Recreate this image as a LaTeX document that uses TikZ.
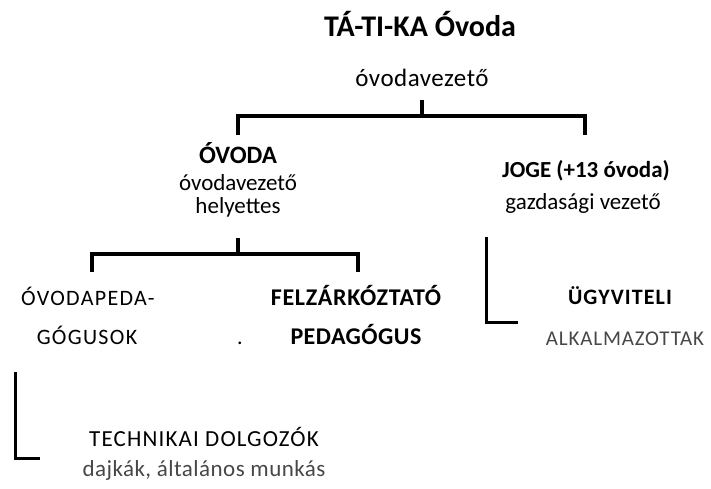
\documentclass[tikz,border=0pt]{standalone}
\usepackage{fontspec}
\setmainfont{Carlito}
\begin{document}
\begin{tikzpicture}[x=1pt,y=-1pt,
  lbl/.style={inner sep=0pt,anchor=base},
  bigline/.style={line width=4pt,line cap=butt},
  lline/.style={line width=3pt},
  soft/.style={text=black!72}]
\useasboundingbox (0,0) rectangle (711,488);
% texts
\node[lbl,font=\fontsize{30}{32}\selectfont\bfseries] (title) at (420,36) {TÁ-TI-KA Óvoda};
\node[lbl,font=\fontsize{25}{27}\selectfont\addfontfeature{LetterSpace=2}] (tvez) at (422,86) {óvodavezető};
\node[lbl,font=\fontsize{25}{27}\selectfont\bfseries] (ovoda) at (238,163) {ÓVODA};
\node[lbl,font=\fontsize{23}{25}\selectfont] (ovez) at (238,190) {óvodavezető};
\node[lbl,font=\fontsize{23}{25}\selectfont] (hely) at (238,213) {helyettes};
\node[lbl,font=\fontsize{23}{25}\selectfont\bfseries] (joge) at (586,177) {JOGE (+13 óvoda)};
\node[lbl,font=\fontsize{23}{25}\selectfont] (gazd) at (583,209) {gazdasági vezető};
\node[lbl,font=\fontsize{22}{24}\selectfont\addfontfeature{LetterSpace=6}] (ovped) at (88,305) {ÓVODAPEDA-};
\node[lbl,font=\fontsize{22}{24}\selectfont\addfontfeature{LetterSpace=6}] (gogus) at (87,344) {GÓGUSOK};
\node[lbl,font=\fontsize{24}{26}\selectfont\bfseries\addfontfeature{LetterSpace=3}] (felz) at (356,305) {FELZÁRKÓZTATÓ};
\node[lbl,font=\fontsize{24}{26}\selectfont\bfseries\addfontfeature{LetterSpace=2}] (peda) at (356,344) {PEDAGÓGUS};
\node[lbl,font=\fontsize{22}{24}\selectfont] (dot) at (240,344) {.};
\node[lbl,font=\fontsize{22}{24}\selectfont\bfseries\addfontfeature{LetterSpace=5}] (ugyv) at (620,304) {ÜGYVITELI};
\node[lbl,soft,font=\fontsize{21}{23}\selectfont\addfontfeature{LetterSpace=4}] (alk) at (625,345) {ALKALMAZOTTAK};
\node[lbl,font=\fontsize{23}{25}\selectfont\addfontfeature{LetterSpace=5}] (tech) at (204,446) {TECHNIKAI DOLGOZÓK};
\node[lbl,soft,font=\fontsize{23}{25}\selectfont\addfontfeature{LetterSpace=2}] (dajk) at (204,476) {dajkák, általános munkás};
% connectors
\coordinate (t1) at (422,100);
\coordinate (t2) at (422,116);
\coordinate (tl) at (238,135);
\coordinate (tr) at (585,135);
\draw[bigline] (t1) -- (t2);
\draw[bigline] (tl) |- (t2) -| (tr);
\coordinate (s1) at (238,238);
\coordinate (s2) at (238,254);
\coordinate (sl) at (92,272);
\coordinate (sr) at (358,272);
\draw[bigline] (s1) -- (s2);
\draw[bigline] (sl) |- (s2) -| (sr);
\coordinate (r1) at (486,237);
\coordinate (r2) at (518,322);
\draw[lline] (r1) |- (r2);
\coordinate (b1) at (15,372);
\coordinate (b2) at (40,458);
\draw[lline] (b1) |- (b2);
\end{tikzpicture}
\end{document}
